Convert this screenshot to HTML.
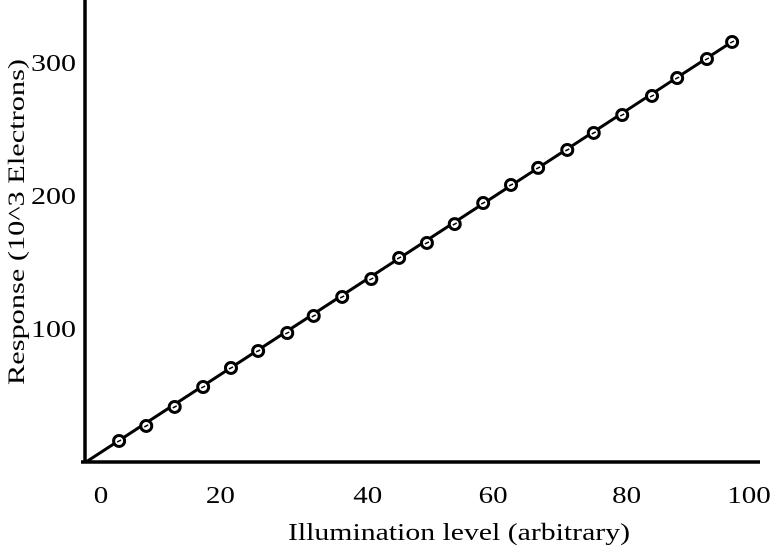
<!DOCTYPE html>
<html><head><meta charset="utf-8"><style>
html,body{margin:0;padding:0;background:#fff;}
svg{display:block;font-family:"Liberation Serif",serif;}
</style></head><body>
<svg id="chart" width="774" height="560" viewBox="0 0 774 560" xmlns="http://www.w3.org/2000/svg">
<g id="axes"></g>
<g id="marks"></g>
<text x="459" y="540" font-size="24" text-anchor="middle" textLength="342" lengthAdjust="spacingAndGlyphs">Illumination level (arbitrary)</text>
<text transform="translate(24,222) rotate(-90)" font-size="23" text-anchor="middle" textLength="326" lengthAdjust="spacingAndGlyphs">Response  (10^3 Electrons)</text>
</svg>
<script>
const illumination = [5.0,9.1,13.4,17.7,21.9,26.0,30.4,34.4,38.7,43.1,47.3,51.5,55.7,60.0,64.2,68.3,72.7,76.7,81.0,85.5,89.3,93.8,97.6];
const response = [15.8,27.1,41.4,56.4,70.7,83.5,97.0,109.8,124.1,137.6,153.4,164.7,178.9,194.7,208.3,221.1,234.6,247.4,260.9,275.2,288.7,303.0,315.8];
const fitX = [0,97.6];
const fitY = [0,316];
const xTicks = [0,20,40,60,80,100];
const yTicks = [100,200,300];

const NS='http://www.w3.org/2000/svg';
function X(v){return 86+v*6.62;}
function Y(v){return 462-v*1.33;}
function mk(tag,attrs,parent){const e=document.createElementNS(NS,tag);for(const k in attrs)e.setAttribute(k,attrs[k]);parent.appendChild(e);return e;}
const axes=document.getElementById('axes');
const marks=document.getElementById('marks');

let e=mk('line',{x1:85,y1:0,x2:85,y2:463,stroke:'#000','stroke-width':3.5},axes);


e=mk('line',{x1:81,y1:462,x2:760,y2:462,stroke:'#000','stroke-width':3.5},axes);



const xNudge = {0:15,20:2,40:17,60:10,80:11,100:1};
xTicks.forEach(function(t){
  const s=String(t);
  const tx=mk('text',{x:X(t)+xNudge[t],y:503,'font-size':24,'text-anchor':'middle',textLength:s.length*14.5,lengthAdjust:'spacingAndGlyphs'},axes);
  tx.textContent=s;
  
  
});
yTicks.forEach(function(t){
  const s=String(t);
  const tx=mk('text',{x:76,y:Y(t)+8,'font-size':24,'text-anchor':'end',textLength:s.length*15,lengthAdjust:'spacingAndGlyphs'},axes);
  tx.textContent=s;
  
  
});

const fit=mk('line',{x1:X(fitX[0]),y1:Y(fitY[0]),x2:X(fitX[1]),y2:Y(fitY[1]),stroke:'#000','stroke-width':3},marks);



illumination.forEach(function(v,i){
  const c=mk('circle',{cx:X(v),cy:Y(response[i]),r:5.5,fill:'#fff',stroke:'#000','stroke-width':3},marks);
  
  
  const s=mk('line',{x1:X(v)-2,y1:Y(response[i])+1,x2:X(v)+2,y2:Y(response[i])-1,stroke:'#000','stroke-width':1.5},marks);
  
  
});
</script>
</body></html>
